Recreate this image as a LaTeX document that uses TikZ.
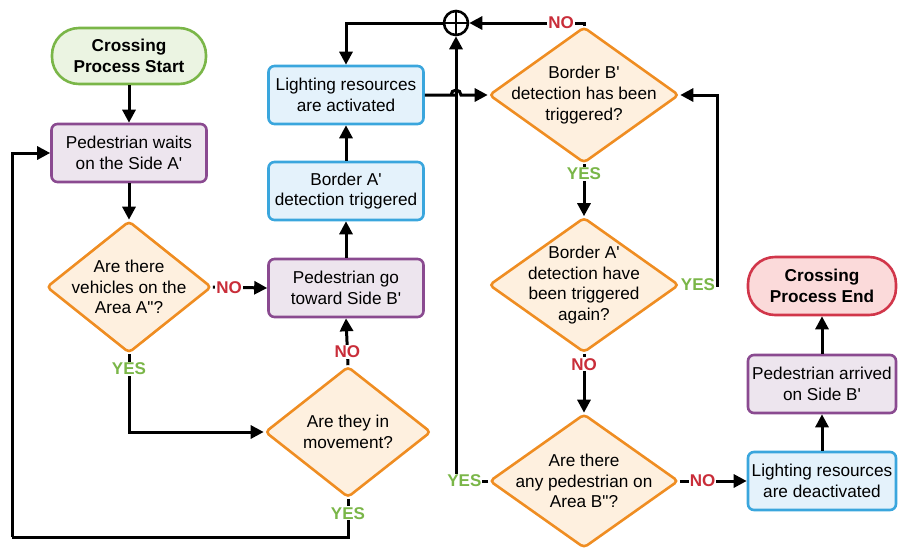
\documentclass[tikz,border=0pt]{standalone}
\usepackage{fontspec}
\setmainfont{Liberation Sans}[Ligatures=TeXOff]
\usetikzlibrary{shapes.geometric,arrows.meta}

\definecolor{grnline}{HTML}{7AB648}
\definecolor{grnfill}{HTML}{EBF4E2}
\definecolor{purline}{HTML}{8A4A90}
\definecolor{purfill}{HTML}{EDE5EE}
\definecolor{orgline}{HTML}{EF8D22}
\definecolor{orgfill}{HTML}{FEF0DF}
\definecolor{bluline}{HTML}{3AA6DD}
\definecolor{blufill}{HTML}{E4F2FB}
\definecolor{redline}{HTML}{D1364A}
\definecolor{redfill}{HTML}{FBDADA}
\definecolor{notext}{HTML}{C92D39}
\definecolor{yestext}{HTML}{7AB648}

\tikzset{
  txt/.style={font=\fontsize{17.2}{20.8}\selectfont, align=center, text=black},
  boxbase/.style={txt, draw, line width=2.6pt, rounded corners=6pt,
    minimum height=58pt, inner sep=2pt},
  purbox/.style={boxbase, draw=purline, fill=purfill},
  blubox/.style={boxbase, draw=bluline, fill=blufill},
  terminal/.style={txt, draw, line width=2.6pt, rounded corners=27pt,
    minimum height=56pt, font=\fontsize{17.2}{20.8}\selectfont\bfseries},
  dia/.style={diamond, draw=orgline, fill=orgfill, line width=2.6pt,
    rounded corners=4pt, inner sep=0pt},
  arr/.style={line width=3pt, -{Triangle[length=13pt,width=13pt]}},
  plain/.style={line width=3pt},
  lab/.style={font=\fontsize{17}{18}\selectfont\bfseries, fill=white,
    inner sep=1pt},
  nolab/.style={lab, text=notext},
  yeslab/.style={lab, text=yestext},
}

\begin{document}
\begin{tikzpicture}[x=1pt,y=-1pt]
\useasboundingbox (0,0) rectangle (898,547);

% ---- nodes ----
\node[terminal, draw=grnline, fill=grnfill, minimum width=154pt] (start) at (129,56)
  {Crossing\\Process Start};
\node[purbox, minimum width=155pt] (pw) at (129,153) {Pedestrian waits\\on the Side A'};
\node[dia, minimum width=165pt, minimum height=132pt,
  label={[txt]center:Are there\\vehicles on the\\Area A"?}] (d1) at (129,287) {};
\node[purbox, minimum width=155pt] (pg) at (346,288) {Pedestrian go\\toward Side B'};
\node[dia, minimum width=166pt, minimum height=131pt,
  label={[txt]center:Are they in\\movement?}] (d2) at (348,432) {};
\node[blubox, minimum width=155pt] (ba) at (346,191) {Border A'\\detection triggered};
\node[blubox, minimum width=155pt] (la) at (346,95) {Lighting resources\\are activated};

\node[circle, draw, line width=2.6pt, minimum size=24pt, inner sep=0pt] (cp) at (456,23) {};
\draw[line width=2.6pt] (cp.north) -- (cp.south) (cp.west) -- (cp.east);

\node[dia, minimum width=190pt, minimum height=136pt,
  label={[txt]center:Border B'\\detection has been\\triggered?}] (db) at (584,95) {};
\node[dia, minimum width=190pt, minimum height=135pt,
  label={[txt]center:Border A'\\detection have\\been triggered\\again?}] (da) at (584,285) {};
\node[dia, minimum width=189pt, minimum height=134pt,
  label={[txt]center:Are there\\any pedestrian on\\Area B"?}] (d3) at (584,481) {};

\node[blubox, minimum width=148pt] (ld) at (822,481) {Lighting resources\\are deactivated};
\node[purbox, minimum width=148pt] (pa) at (822,384) {Pedestrian arrived\\on Side B'};
\node[terminal, draw=redline, fill=redfill, minimum width=148pt, minimum height=58pt]
  (stop) at (822,286) {Crossing\\Process End};

\coordinate (lb) at (12,537);
\coordinate (rt) at (717,190);

% ---- connectors ----
\draw[arr] (start) -- (pw);
\draw[arr] (pw) -- (d1);
\draw[arr] (d1.east) -- (pg.west) node[nolab, pos=0.3] {NO};
\draw[arr] (d1.south) |- (d2.west) node[yeslab, pos=0.095] {YES};
\draw[arr] (d2.north) -- (pg.south) node[nolab, pos=0.29] {NO};
\draw[plain] (d2.south) |- (lb) node[yeslab, pos=0.19] {YES};
\draw[arr] (lb) |- (pw.west);
\draw[arr] (pg) -- (ba);
\draw[arr] (ba) -- (la);

% vertical return line towards the junction
\draw[arr] (d3.west) -| (cp.south) node[yeslab, pos=0.37] {YES};
% horizontal line hopping over it
\draw[arr] (la.east) -- (cp.south |- la.east) ++(-5,0) arc (180:360:5) -- (db.west);

\draw[arr] (db.north) |- (cp.east) node[nolab, pos=0.6] {NO};
\draw[arr] (cp.west) -| (la.north);
\draw[arr] (db.south) -- (da.north) node[yeslab, pos=0.18] {YES};
\draw[plain] (da.east) -| (rt) node[yeslab, pos=0.24] {YES};
\draw[arr] (rt) |- (db.east);
\draw[arr] (da.south) -- (d3.north) node[nolab, pos=0.18] {NO};
\draw[arr] (d3.east) -- (ld.west) node[nolab, pos=0.34] {NO};
\draw[arr] (ld) -- (pa);
\draw[arr] (pa) -- (stop);
\end{tikzpicture}
\end{document}
